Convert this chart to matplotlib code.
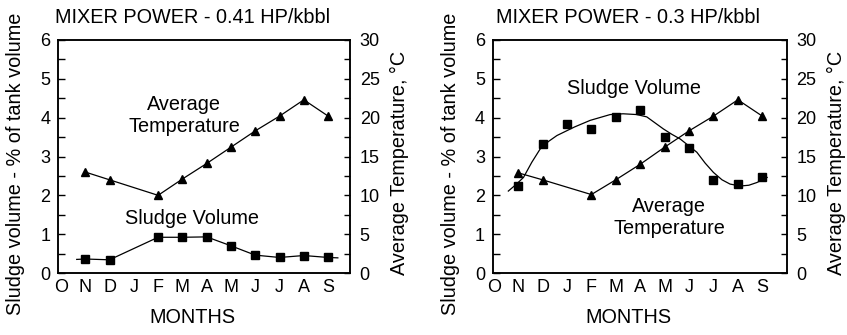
import matplotlib.pyplot as plt

plt.rcParams["font.family"] = ["Liberation Sans", "DejaVu Sans"]

# month letters, October to September
months = ["O", "N", "D", "J", "F", "M", "A", "M", "J", "J", "A", "S"]

# Average temperature, deg C (no January reading)
temp_idx = [1, 2, 4, 5, 6, 7, 8, 9, 10, 11]
temp_a = [13.0, 12.0, 10.0, 12.1, 14.1, 16.2, 18.3, 20.2, 22.3, 20.2]
temp_b = [12.9, 12.0, 10.1, 12.0, 14.0, 16.2, 18.3, 20.2, 22.3, 20.2]

# Sludge volume, % of tank volume - mixer 0.41 HP/kbbl
sludge_a_idx = [1, 2, 4, 5, 6, 7, 8, 9, 10, 11]
sludge_a = [0.36, 0.34, 0.92, 0.92, 0.93, 0.70, 0.46, 0.40, 0.45, 0.40]
# drawn line, with its short tails at both ends
sludge_a_line_idx = [0.65, 1, 2, 4, 5, 6, 7, 8, 9, 10, 11, 11.4]
sludge_a_line = [0.35, 0.36, 0.34, 0.92, 0.92, 0.93, 0.70, 0.46, 0.40, 0.45, 0.40, 0.39]

# Sludge volume - mixer 0.3 HP/kbbl
sludge_b_idx = [1, 2, 3, 4, 5, 6, 7, 8, 9, 10, 11]
sludge_b = [2.24, 3.33, 3.84, 3.70, 4.02, 4.19, 3.50, 3.22, 2.39, 2.30, 2.47]
# fitted curve
fit_b_idx = [0.60, 0.90, 1.22, 1.56, 1.90, 2.25, 2.59, 3.31, 3.95, 4.77, 5.30,
             5.86, 6.27, 6.95, 7.30, 7.64, 7.98, 8.32, 8.66, 9.00, 9.35, 9.68,
             10.1, 10.45, 10.78, 11.2]
fit_b = [2.11, 2.27, 2.46, 2.85, 3.19, 3.39, 3.54, 3.76, 3.93, 4.08, 4.10,
         4.08, 4.02, 3.71, 3.57, 3.45, 3.28, 3.11, 2.83, 2.59, 2.40, 2.29,
         2.24, 2.26, 2.33, 2.46]

W, H = 847, 335
fig = plt.figure(figsize=(W / 100, H / 100), dpi=100)

TXT = 14.3
TCK = 13


def panel(left_px, width_px, xlim, title, temp, sludge_idx, sludge, line_idx, line,
          sv_xy, at_xy):
    ax = fig.add_axes([left_px / W, 1 - 273 / H, width_px / W, 233 / H])
    ax2 = ax.twinx()

    ax.set_xlim(*xlim)
    ax.set_ylim(0, 6)
    ax2.set_ylim(0, 30)

    ax.set_xticks(range(len(months)))
    ax.set_xticklabels(months)
    ax.tick_params(axis="x", length=0, pad=4.5, labelsize=TCK)
    ax.set_yticks(range(7))
    ax.set_yticks([v + 0.5 for v in range(6)], minor=True)
    ax.tick_params(axis="y", which="both", direction="in", pad=5.5,
                   labelsize=TCK, length=5, width=1)
    ax2.set_yticks(range(0, 31, 5))
    ax2.set_yticks([v + 2.5 for v in range(0, 30, 5)], minor=True)
    ax2.tick_params(axis="y", which="both", direction="in", pad=7,
                    labelsize=TCK, length=4.5, width=1)
    for a in (ax, ax2):
        for s in a.spines.values():
            s.set_linewidth(1.1)

    # sludge on the left axis
    ax.plot(line_idx, line, color="black", lw=0.9)
    ax.plot(sludge_idx, sludge, ls="none", marker="s", ms=5.2, color="black")

    # temperature on the right axis
    ax2.plot(temp_idx, temp, color="black", lw=0.9, marker="^", ms=6)

    ax.set_xlabel("MONTHS", fontsize=TXT)
    ax.xaxis.set_label_coords(0.46, -0.15)
    ax.set_ylabel("Sludge volume - % of tank volume", fontsize=TXT)
    ax.yaxis.set_label_coords(-0.112, 0.468)
    ax2.set_ylabel("Average Temperature, °C", fontsize=TXT)
    ax2.yaxis.set_label_coords(1.138, 0.474)

    ax.text(0.46, 1.074, title, transform=ax.transAxes, ha="center",
            va="baseline", fontsize=TXT)
    ax.text(sv_xy[0], sv_xy[1], "Sludge Volume", ha="center", va="baseline",
            fontsize=TXT)
    ax.text(at_xy[0], at_xy[1], "Average\nTemperature", ha="center",
            va="center", multialignment="center", fontsize=TXT)
    return ax


panel(58, 292, (-0.12, 11.9), "MIXER POWER - 0.41 HP/kbbl", temp_a,
      sludge_a_idx, sludge_a, sludge_a_line_idx, sludge_a_line,
      (5.41, 1.26), (5.08, 4.05))
panel(492.7, 294, (-0.04, 12.0), "MIXER POWER - 0.3 HP/kbbl", temp_b,
      sludge_b_idx, sludge_b, fit_b_idx, fit_b,
      (5.73, 4.60), (7.19, 1.43))

fig.savefig("out.png", dpi=100)
